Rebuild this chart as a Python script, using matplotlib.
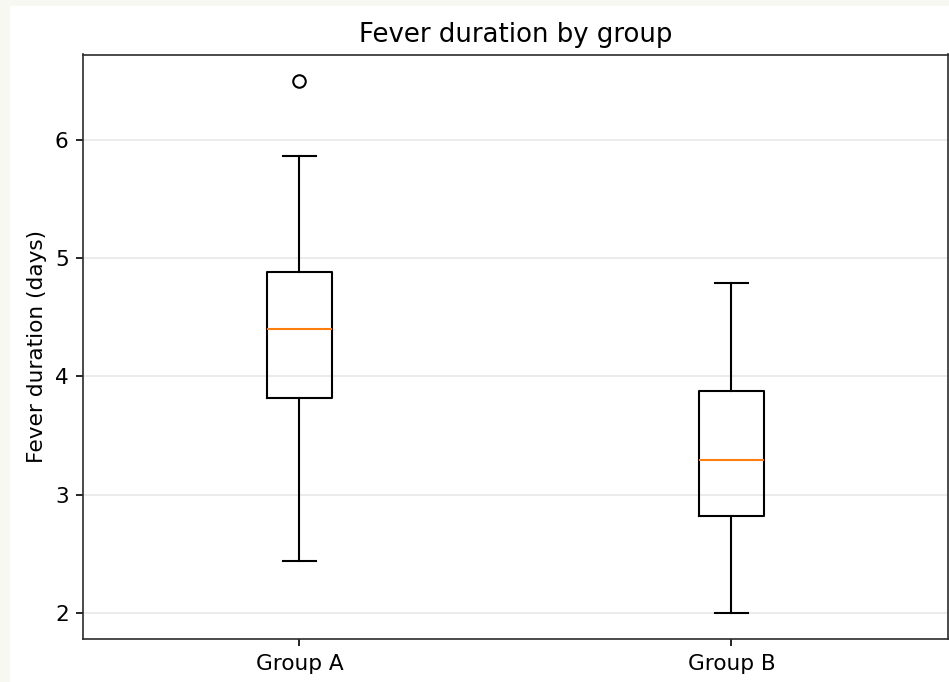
import matplotlib
matplotlib.use("Agg")
import matplotlib.pyplot as plt
from matplotlib.patches import Rectangle

# Box statistics (days)
groups = ["Group A", "Group B"]
whisker_low = [2.44, 2.00]
q1 = [3.82, 2.82]
medians = [4.40, 3.29]
q3 = [4.88, 3.88]
whisker_high = [5.87, 4.79]
outliers = [[6.50], []]

stats = []
for i, name in enumerate(groups):
    stats.append({
        "label": name,
        "whislo": whisker_low[i],
        "q1": q1[i],
        "med": medians[i],
        "q3": q3[i],
        "whishi": whisker_high[i],
        "fliers": outliers[i],
    })

plt.rcParams["font.size"] = 10.4
plt.rcParams["lines.linewidth"] = 1.05

W, H, DPI = 949, 682, 150
fig = plt.figure(figsize=(W / DPI, H / DPI), dpi=DPI, facecolor="#f8f8f3")

# white canvas, slightly offset from the top-left corner
fig.add_artist(Rectangle((10 / W, 0), 1, 1 - 6 / H, transform=fig.transFigure,
                         facecolor="white", edgecolor="none", zorder=-1))

ax = fig.add_axes([83.3 / W, 1 - 639.3 / H, (947.5 - 83.3) / W, (639.3 - 54.5) / H])
ax.bxp(stats, positions=[1, 2], widths=0.15)

ax.set_xlim(0.5, 2.5)
ax.set_ylim(1.775, 6.725)
ax.set_yticks([2, 3, 4, 5, 6])
ax.yaxis.grid(True, alpha=0.3)
ax.set_axisbelow(True)
for s in ax.spines.values():
    s.set_color("#2b2b2b")

ax.set_title("Fever duration by group", fontsize=12.5)
ax.set_ylabel("Fever duration (days)")

fig.savefig("out.png", dpi=DPI, facecolor=fig.get_facecolor())
